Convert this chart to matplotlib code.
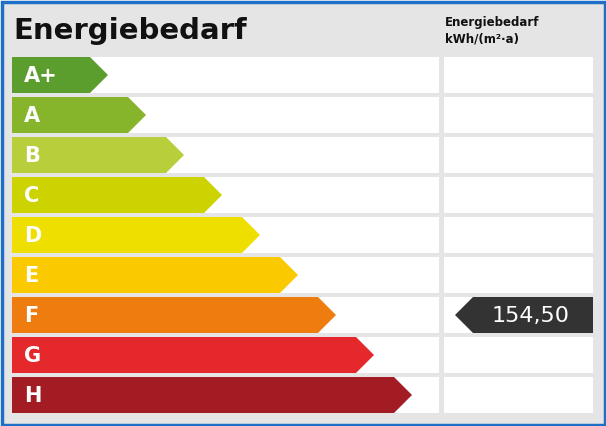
import matplotlib
matplotlib.use("Agg")
import matplotlib.pyplot as plt
from matplotlib.patches import Polygon, Rectangle

classes = ["A+", "A", "B", "C", "D", "E", "F", "G", "H"]
colors = ["#5c9e2d", "#86b52b", "#b8cf3b", "#cdd300", "#efdf00", "#fbc900", "#ee7c0e", "#e4282b", "#a31c23"]
value = 154.50
value_class = "F"
title = "Energiebedarf"
header = "Energiebedarf\nkWh/(m²·a)"

W, H = 606, 426
fig = plt.figure(figsize=(W/100, H/100), dpi=100)
ax = fig.add_axes([0, 0, 1, 1])
ax.set_xlim(0, W); ax.set_ylim(H, 0); ax.axis("off")

ax.add_patch(Rectangle((1.5, 1.5), W-3, H-3, facecolor="#e5e5e5", edgecolor="#1f6fc6", lw=2.5))
ax.text(13, 31, title, fontsize=21, fontweight="bold", va="center", ha="left", color="#111111")
ax.text(445, 31, header, fontsize=8.5, fontweight="bold", va="center", ha="left", color="#111111", linespacing=1.4)

top0, step, h = 57, 40, 36
for i, (c, col) in enumerate(zip(classes, colors)):
    y = top0 + i*step
    ax.add_patch(Rectangle((12, y), 427, h, facecolor="white", edgecolor="none"))
    ax.add_patch(Rectangle((444, y), 149, h, facecolor="white", edgecolor="none"))
    xe = 108 + 38*i
    ax.add_patch(Polygon([(12, y), (xe-18, y), (xe, y+h/2), (xe-18, y+h), (12, y+h)],
                         closed=True, facecolor=col, edgecolor="none"))
    ax.text(24, y+h/2+1, c, fontsize=15, fontweight="bold", color="white", va="center", ha="left")
    if c == value_class:
        ax.add_patch(Polygon([(455, y+h/2), (473, y), (593, y), (593, y+h), (473, y+h)],
                             closed=True, facecolor="#333333", edgecolor="none"))
        ax.text(531, y+h/2+1, f"{value:.2f}".replace(".", ","), fontsize=16, color="white",
                va="center", ha="center")

fig.savefig("out.png", dpi=100)
